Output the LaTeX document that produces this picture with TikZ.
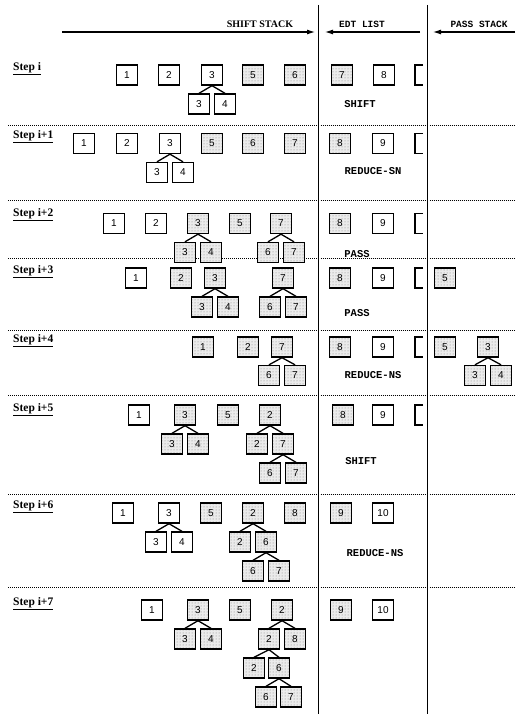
\documentclass[tikz,border=0pt]{standalone}
\usepackage{fontspec}
\setmainfont{Liberation Serif}
\setsansfont{Liberation Sans}
\setmonofont{Liberation Mono}
\usetikzlibrary{arrows.meta,patterns}
\begin{document}
\begin{tikzpicture}[x=1pt,y=-1pt,
  wbox/.style={draw, line width=1.4pt, minimum width=21pt, minimum height=20pt, inner sep=0pt,
    font=\sffamily\fontsize{10}{10}\selectfont},
  sbox/.style={wbox, preaction={fill=black!8}, pattern=dots, pattern color=black!50},
  edge/.style={line width=1.3pt},
  sep/.style={line width=0.6pt, dash pattern=on 1pt off 1pt},
  vline/.style={line width=1.3pt},
  harrow/.style={line width=1.1pt, -{Latex[length=8pt,width=5pt]}},
  brk/.style={line width=1.4pt},
  steplabel/.style={anchor=west, font=\bfseries\fontsize{11.5}{12}\selectfont, inner sep=0pt},
  op/.style={font=\ttfamily\bfseries\fontsize{10.5}{11}\selectfont, inner sep=0pt},
  head/.style={inner sep=0pt}]
\useasboundingbox (0,0) rectangle (515,714);

% header
\coordinate (sa) at (62,32);   \coordinate (sb) at (315,32);
\coordinate (ea) at (420,32);  \coordinate (eb) at (325,32);
\coordinate (pa) at (515,32);  \coordinate (pb) at (433,32);
\draw[harrow] (sa) -- (sb);
\draw[harrow] (ea) -- (eb);
\draw[harrow] (pa) -- (pb);
\node[head, font=\bfseries\fontsize{10}{11}\selectfont] (hs) at (260,24) {SHIFT STACK};
\node[head, font=\ttfamily\bfseries\fontsize{9.5}{10}\selectfont] (he) at (362,24) {EDT LIST};
\node[head, font=\ttfamily\bfseries\fontsize{9.5}{10}\selectfont] (hp) at (479,24) {PASS STACK};

% vertical dividers
\coordinate (v1t) at (318.5,5); \coordinate (v1b) at (318.5,714);
\coordinate (v2t) at (427.5,5); \coordinate (v2b) at (427.5,714);
\draw[vline] (v1t) -- (v1b);
\draw[vline] (v2t) -- (v2b);

% dotted separators
\foreach \yy in {125.5,200.5,258.5,330,395,494,587}{
  \draw[sep] (8,\yy) -- (316.5,\yy);
  \draw[sep] (320.5,\yy) -- (425.5,\yy);
  \draw[sep] (429.5,\yy) -- (515,\yy);
}

% brackets
\foreach \yy in {75,143.5,223.5,278,347,415}{
  \draw[brk] (423,\yy-10) -- (415,\yy-10) -- (415,\yy+10) -- (423,\yy+10);
}

% step labels
\node[steplabel] (L0) at (13,69) {\underline{Step i}};
\node[steplabel] (L1) at (13,137) {\underline{Step i+1}};
\node[steplabel] (L2) at (13,215) {\underline{Step i+2}};
\node[steplabel] (L3) at (13,272) {\underline{Step i+3}};
\node[steplabel] (L4) at (13,341) {\underline{Step i+4}};
\node[steplabel] (L5) at (13,410) {\underline{Step i+5}};
\node[steplabel] (L6) at (13,507) {\underline{Step i+6}};
\node[steplabel] (L7) at (13,604) {\underline{Step i+7}};

% ---- Step i
\node[wbox] (a1) at (127,75) {1};
\node[wbox] (a2) at (169,75) {2};
\node[wbox] (a3) at (212,75) {3};
\node[sbox] (a5) at (253,75) {5};
\node[sbox] (a6) at (295,75) {6};
\node[sbox] (a7) at (342,75) {7};
\node[wbox] (a8) at (384,75) {8};
\node[wbox] (a3l) at (199,104) {3};
\node[wbox] (a3r) at (225,104) {4};
\draw[edge] (a3.south) -- (a3l.north);
\draw[edge] (a3.south) -- (a3r.north);
\node[op] (aop) at (360,104) {SHIFT};

% ---- Step i+1
\node[wbox] (b1) at (84,143.5) {1};
\node[wbox] (b2) at (127,143.5) {2};
\node[wbox] (b3) at (170,143.5) {3};
\node[sbox] (b5) at (212,143.5) {5};
\node[sbox] (b6) at (253,143.5) {6};
\node[sbox] (b7) at (295,143.5) {7};
\node[sbox] (b8) at (340,143.5) {8};
\node[wbox] (b9) at (383,143.5) {9};
\node[wbox] (b3l) at (157,172.5) {3};
\node[wbox] (b3r) at (183,172.5) {4};
\draw[edge] (b3.south) -- (b3l.north);
\draw[edge] (b3.south) -- (b3r.north);
\node[op] (bop) at (373,171) {REDUCE-SN};

% ---- Step i+2
\node[wbox] (c1) at (114,223.5) {1};
\node[wbox] (c2) at (156,223.5) {2};
\node[sbox] (c3) at (198,223.5) {3};
\node[sbox] (c5) at (240,223.5) {5};
\node[sbox] (c7) at (281,223.5) {7};
\node[sbox] (c8) at (340,223.5) {8};
\node[wbox] (c9) at (383,223.5) {9};
\node[sbox] (c3l) at (185,252.5) {3};
\node[sbox] (c3r) at (211,252.5) {4};
\node[sbox] (c7l) at (268,252.5) {6};
\node[sbox] (c7r) at (294,252.5) {7};
\draw[edge] (c3.south) -- (c3l.north);
\draw[edge] (c3.south) -- (c3r.north);
\draw[edge] (c7.south) -- (c7l.north);
\draw[edge] (c7.south) -- (c7r.north);
\node[op] (cop) at (357,254) {PASS};

% ---- Step i+3
\node[wbox] (d1) at (136,278) {1};
\node[sbox] (d2) at (181,278) {2};
\node[sbox] (d3) at (215,278) {3};
\node[sbox] (d7) at (283,278) {7};
\node[sbox] (d8) at (340,278) {8};
\node[wbox] (d9) at (383,278) {9};
\node[sbox] (d5) at (445,278) {5};
\node[sbox] (d3l) at (202,307) {3};
\node[sbox] (d3r) at (228,307) {4};
\node[sbox] (d7l) at (270,307) {6};
\node[sbox] (d7r) at (296,307) {7};
\draw[edge] (d3.south) -- (d3l.north);
\draw[edge] (d3.south) -- (d3r.north);
\draw[edge] (d7.south) -- (d7l.north);
\draw[edge] (d7.south) -- (d7r.north);
\node[op] (dop) at (357,313) {PASS};

% ---- Step i+4
\node[sbox] (e1) at (203,347) {1};
\node[sbox] (e2) at (248,347) {2};
\node[sbox] (e7) at (282,347) {7};
\node[sbox] (e8) at (340,347) {8};
\node[wbox] (e9) at (383,347) {9};
\node[sbox] (e5) at (445,347) {5};
\node[sbox] (e3) at (488,347) {3};
\node[sbox] (e7l) at (269,375.5) {6};
\node[sbox] (e7r) at (295,375.5) {7};
\node[sbox] (e3l) at (475,375.5) {3};
\node[sbox] (e3r) at (501,375.5) {4};
\draw[edge] (e7.south) -- (e7l.north);
\draw[edge] (e7.south) -- (e7r.north);
\draw[edge] (e3.south) -- (e3l.north);
\draw[edge] (e3.south) -- (e3r.north);
\node[op] (eop) at (373,375) {REDUCE-NS};

% ---- Step i+5
\node[wbox] (f1) at (139,415) {1};
\node[sbox] (f3) at (185,415) {3};
\node[sbox] (f5) at (228,415) {5};
\node[sbox] (f2) at (270,415) {2};
\node[sbox] (f8) at (343,415) {8};
\node[wbox] (f9) at (383,415) {9};
\node[sbox] (f3l) at (172,444) {3};
\node[sbox] (f3r) at (198,444) {4};
\node[sbox] (f2l) at (257,444) {2};
\node[sbox] (f2r) at (283,444) {7};
\node[sbox] (f7l) at (270,473) {6};
\node[sbox] (f7r) at (296,473) {7};
\draw[edge] (f3.south) -- (f3l.north);
\draw[edge] (f3.south) -- (f3r.north);
\draw[edge] (f2.south) -- (f2l.north);
\draw[edge] (f2.south) -- (f2r.north);
\draw[edge] (f2r.south) -- (f7l.north);
\draw[edge] (f2r.south) -- (f7r.north);
\node[op] (fop) at (361,461) {SHIFT};

% ---- Step i+6
\node[wbox] (g1) at (123,513) {1};
\node[wbox] (g3) at (169,513) {3};
\node[sbox] (g5) at (211,513) {5};
\node[sbox] (g2) at (253,513) {2};
\node[sbox] (g8) at (295,513) {8};
\node[sbox] (g9) at (341,513) {9};
\node[wbox] (g10) at (383,513) {10};
\node[wbox] (g3l) at (156,542) {3};
\node[wbox] (g3r) at (182,542) {4};
\node[sbox] (g2l) at (240,542) {2};
\node[sbox] (g2r) at (266,542) {6};
\node[sbox] (g6l) at (253,571) {6};
\node[sbox] (g6r) at (279,571) {7};
\draw[edge] (g3.south) -- (g3l.north);
\draw[edge] (g3.south) -- (g3r.north);
\draw[edge] (g2.south) -- (g2l.north);
\draw[edge] (g2.south) -- (g2r.north);
\draw[edge] (g2r.south) -- (g6l.north);
\draw[edge] (g2r.south) -- (g6r.north);
\node[op] (gop) at (375,553) {REDUCE-NS};

% ---- Step i+7
\node[wbox] (h1) at (152,610) {1};
\node[sbox] (h3) at (198,610) {3};
\node[sbox] (h5) at (240,610) {5};
\node[sbox] (h2) at (282,610) {2};
\node[sbox] (h9) at (341,610) {9};
\node[wbox] (h10) at (383,610) {10};
\node[sbox] (h3l) at (185,639) {3};
\node[sbox] (h3r) at (211,639) {4};
\node[sbox] (h2l) at (269,639) {2};
\node[sbox] (h2r) at (295,639) {8};
\node[sbox] (h22l) at (254,668) {2};
\node[sbox] (h22r) at (279,668) {6};
\node[sbox] (h6l) at (266,697) {6};
\node[sbox] (h6r) at (291,697) {7};
\draw[edge] (h3.south) -- (h3l.north);
\draw[edge] (h3.south) -- (h3r.north);
\draw[edge] (h2.south) -- (h2l.north);
\draw[edge] (h2.south) -- (h2r.north);
\draw[edge] (h2l.south) -- (h22l.north);
\draw[edge] (h2l.south) -- (h22r.north);
\draw[edge] (h22r.south) -- (h6l.north);
\draw[edge] (h22r.south) -- (h6r.north);
\end{tikzpicture}
\end{document}
